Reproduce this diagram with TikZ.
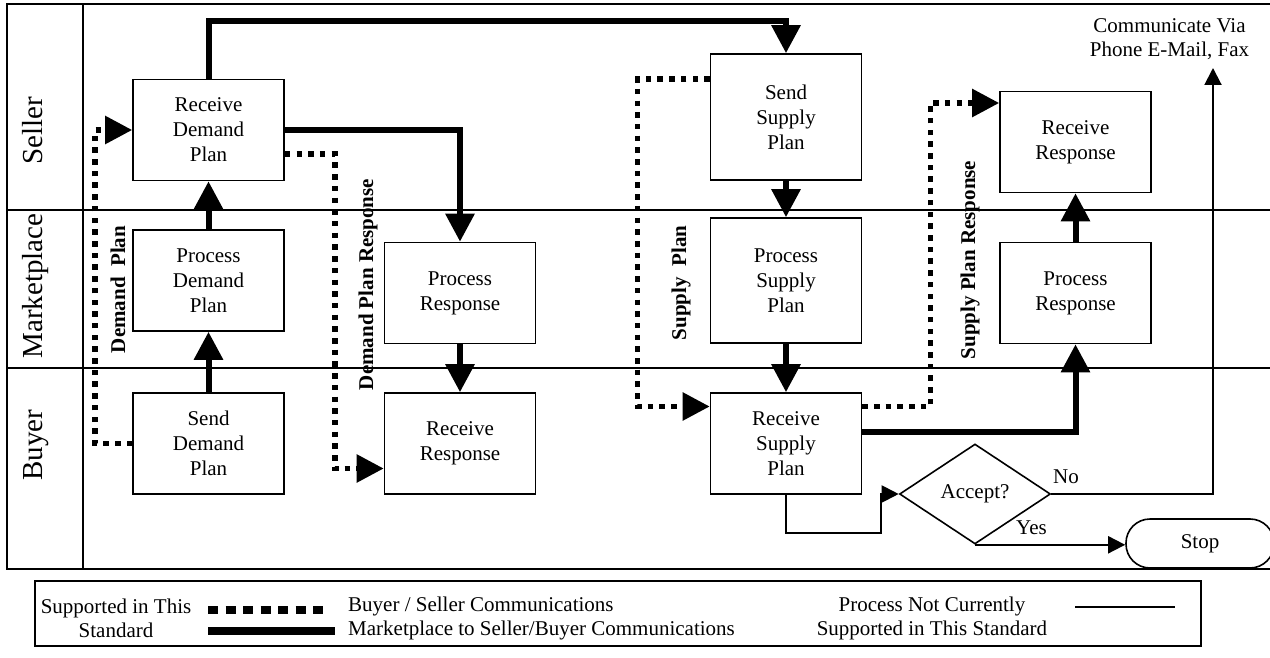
\documentclass[tikz,border=0pt]{standalone}
\usepackage{fontspec}
\setmainfont{Liberation Serif}
\usetikzlibrary{arrows.meta,shapes.geometric,calc}
\begin{document}
\begin{tikzpicture}[x=1pt,y=-1pt,
  box/.style={draw,line width=1.6pt,minimum width=151pt,minimum height=101pt,
    align=center,inner sep=0pt,font=\fontsize{21}{25}\selectfont},
  lanelabel/.style={rotate=90,font=\fontsize{29}{30}\selectfont,
    text height=20pt,text depth=6pt,inner sep=0pt},
  flowlabel/.style={rotate=90,font=\bfseries\fontsize{21}{24}\selectfont,inner sep=0pt},
  thickflow/.style={line width=6pt,-{Triangle[length=28pt,width=28pt]}},
  dotflow/.style={line width=5.5pt,dash pattern=on 5.5pt off 6.2pt,-{Triangle[length=27pt,width=27pt]}},
  thinflow/.style={line width=2pt,-{Triangle[length=17pt,width=17pt]}},
  plain/.style={font=\fontsize{21}{24}\selectfont,inner sep=0pt,align=center},
  frame/.style={line width=2pt}
]
\useasboundingbox (0,0) rectangle (1270,658);

% swimlane frame
\draw[frame] (1280,4) -- (7,4) -- (7,569) -- (1280,569);
\draw[frame] (83,4) -- (83,569);
\draw[frame] (7,210) -- (1280,210);
\draw[frame] (7,368) -- (1280,368);

\node[lanelabel] (seller) at (35,131) {Seller};
\node[lanelabel] (market) at (35,286) {Marketplace};
\node[lanelabel] (buyer)  at (35,445) {Buyer};

% process boxes
\node[box] (rdp) at (208.5,130)   {Receive\\Demand\\Plan};
\node[box] (pdp) at (208.5,280.5) {Process\\Demand\\Plan};
\node[box] (sdp) at (208.5,443.5) {Send\\Demand\\Plan};
\node[box] (pr1) at (460,293)     {Process\\Response};
\node[box] (rr1) at (460,443.5)   {Receive\\Response};
\node[box,minimum height=126pt] (ssp) at (786,117)   {Send\\Supply\\Plan};
\node[box,minimum height=125pt] (psp) at (786,280.5) {Process\\Supply\\Plan};
\node[box] (rsp) at (786,443.5)   {Receive\\Supply\\Plan};
\node[box] (rr2) at (1075.5,142)  {Receive\\Response};
\node[box] (pr2) at (1075.5,293)  {Process\\Response};

\node[diamond,draw,line width=1.6pt,aspect=1.5,minimum width=151pt,minimum height=100pt,
  inner sep=0pt,font=\fontsize{21}{24}\selectfont] (acc) at (975,494) {Accept?};
\node[draw,line width=1.6pt,rounded corners=24pt,minimum width=148pt,minimum height=49pt,
  font=\fontsize{21}{24}\selectfont] (stop) at (1200,543.5) {Stop};

\node[plain] (comm) at (1169.5,39.5) {Communicate Via\\Phone E-Mail, Fax};
\coordinate (commtip) at (1213,68);

% flow labels
\node[flowlabel] (lbl1) at (118,289.5) {Demand\ \ Plan};
\node[flowlabel] (lbl2) at (368,284.5) {Demand Plan Response};
\node[flowlabel] (lbl3) at (681,283)   {Supply\ \ Plan};
\node[flowlabel] (lbl4) at (970,260)   {Supply Plan Response};

% marketplace connections
\draw[thickflow] (sdp.north) -- (pdp.south);
\draw[thickflow] (pdp.north) -- (rdp.south);
\draw[thickflow] (rdp.north) -- ++(0,-58) -| (ssp.north);
\draw[thickflow] (rdp.east) -| (pr1.north);
\draw[thickflow] (pr1.south) -- (rr1.north);
\draw[thickflow] (ssp.south) -- (psp.north);
\draw[thickflow] (psp.south) -- (rsp.north);
\draw[thickflow] ($(rsp.east)+(0,-12)$) -| (pr2.south);
\draw[thickflow] (pr2.north) -- (rr2.south);

% buyer / seller connections
\draw[dotflow] (sdp.west) -- ++(-37,0) |- (rdp.west);
\draw[dotflow] ($(rdp.east)+(0,24)$) -- ++(50,0) |- ($(rr1.west)+(0,25)$);
\draw[dotflow] ($(ssp.west)+(0,-38)$) -- ++(-72,0) |- ($(rsp.west)+(0,-37)$);
\draw[dotflow] ($(rsp.east)+(0,-37)$) -- ++(68,0) |- ($(rr2.west)+(0,-39)$);

% unsupported process
\draw[thinflow] (rsp.south) -- ++(0,38) -- ++(95,0) |- (acc.west);
\draw[thinflow] (acc.east) -| (commtip);
\draw[thinflow] (acc.south) -- (acc.south -| stop.west);
\node[plain] (no)  at (1066,477)   {No};
\node[plain] (yes) at (1031.5,528) {Yes};

% legend
\draw[frame] (35,581) rectangle (1201,646);
\node[plain] (leg1) at (116,618) {Supported in This\\Standard};
\draw[line width=8pt,dash pattern=on 10pt off 7.5pt] (208,610) -- (323,610);
\draw[line width=8pt] (208,631) -- (335,631);
\node[plain,anchor=west] (leg2) at (348,606) {Buyer / Seller Communications};
\node[plain,anchor=west] (leg3) at (348,630) {Marketplace to Seller/Buyer Communications};
\node[plain] (leg4) at (932,618) {Process Not Currently\\Supported in This Standard};
\draw[line width=2pt] (1075,607) -- (1175,607);
\end{tikzpicture}
\end{document}
